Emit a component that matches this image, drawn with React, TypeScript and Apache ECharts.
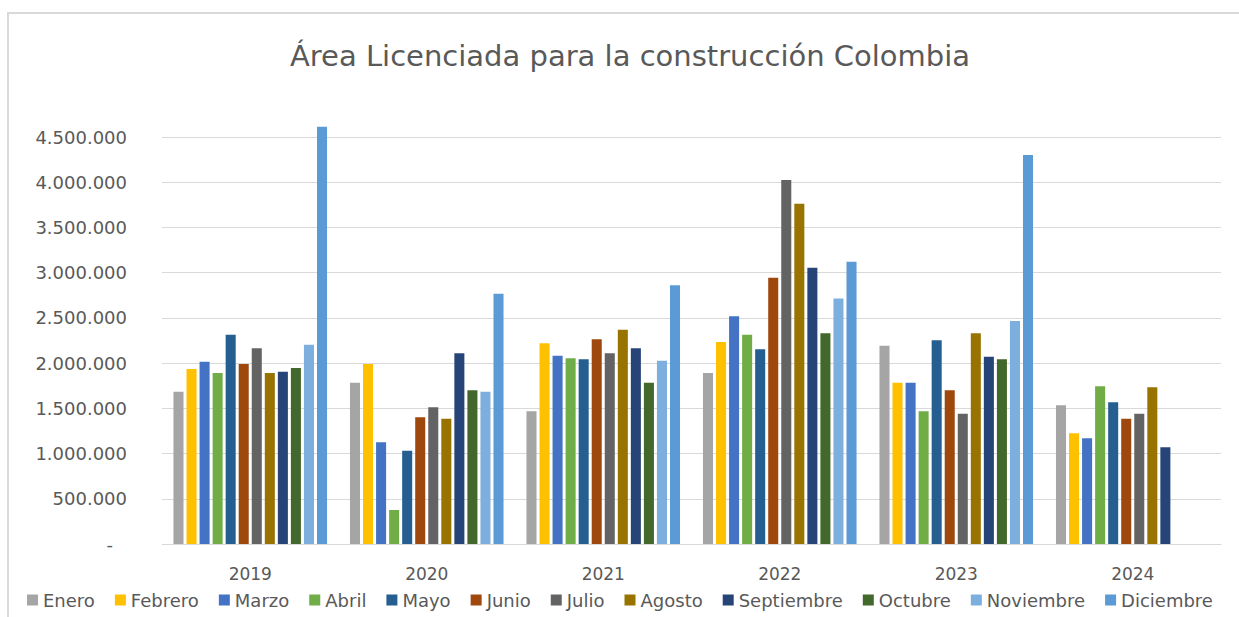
import React, { useEffect, useRef } from "react";
import * as echarts from "echarts";

const years = ["2019", "2020", "2021", "2022", "2023", "2024"];
const months = ["Enero", "Febrero", "Marzo", "Abril", "Mayo", "Junio", "Julio", "Agosto", "Septiembre", "Octubre", "Noviembre", "Diciembre"];
const colors = ["#A5A5A5", "#FFC000", "#4472C4", "#70AD47", "#255E91", "#9E480E", "#636363", "#997300", "#264478", "#43682B", "#7CAFDD", "#5B9BD5"];

const enero = [1684000, 1784000, 1467000, 1891000, 2193000, 1533000];
const febrero = [1935000, 1990000, 2219000, 2234000, 1784000, 1224000];
const marzo = [2016000, 1124000, 2082000, 2517000, 1784000, 1168000];
const abril = [1891000, 376000, 2053000, 2314000, 1467000, 1743000];
const mayo = [2314000, 1032000, 2042000, 2152000, 2252000, 1566000];
const junio = [1990000, 1401000, 2263000, 2945000, 1699000, 1386000];
const julio = [2164000, 1511000, 2108000, 4025000, 1441000, 1441000];
const agosto = [1891000, 1386000, 2370000, 3763000, 2329000, 1732000];
const septiembre = [1905000, 2108000, 2164000, 3055000, 2071000, 1069000];
const octubre = [1946000, 1699000, 1784000, 2329000, 2042000, null];
const noviembre = [2204000, 1684000, 2027000, 2713000, 2466000, null];
const diciembre = [4614000, 2768000, 2860000, 3122000, 4301000, null];

const seriesValues = [enero, febrero, marzo, abril, mayo, junio, julio, agosto, septiembre, octubre, noviembre, diciembre];

const FONT = "'DejaVu Sans', sans-serif";
const TXT = "#595959";

function fmt(v: number): string {
  if (v === 0) return "{d|-}";
  return String(v).replace(/\B(?=(\d{3})+(?!\d))/g, ".");
}

export default function App() {
  const ref = useRef<HTMLDivElement>(null);
  useEffect(() => {
    if (!ref.current) return;
    const chart = echarts.init(ref.current, undefined, { renderer: "svg" });
    chart.setOption({
      animation: false,
      backgroundColor: "#ffffff",
      title: {
        text: "Área Licenciada para la construcción Colombia",
        left: 290,
        top: 41,
        padding: 0,
        textStyle: { fontFamily: FONT, fontSize: 29, fontWeight: "normal", color: TXT },
      },
      graphic: [
        {
          type: "polyline",
          shape: { points: [[8, 617], [8, 13], [1239, 13]] },
          style: { stroke: "#d9d9d9", lineWidth: 2, fill: "none" },
          silent: true,
        },
      ],
      legend: {
        bottom: 8,
        left: 27,
        padding: 0,
        itemWidth: 11,
        itemHeight: 11,
        itemGap: 20,
        icon: "rect",
        textStyle: { fontFamily: FONT, fontSize: 18, color: TXT },
        data: months,
      },
      grid: { left: 162, right: 18, top: 137, bottom: 73 },
      xAxis: {
        type: "category",
        data: years,
        axisLine: { lineStyle: { color: "#d9d9d9", width: 1 } },
        axisTick: { show: false },
        axisLabel: { fontFamily: FONT, fontSize: 17, color: TXT, margin: 21 },
      },
      yAxis: {
        type: "value",
        min: 0,
        max: 4500000,
        interval: 500000,
        axisLine: { show: false },
        axisTick: { show: false },
        splitLine: { lineStyle: { color: "#d9d9d9", width: 1 } },
        axisLabel: {
          fontFamily: FONT,
          fontSize: 18,
          color: TXT,
          margin: 35,
          formatter: fmt,
          rich: { d: { fontFamily: FONT, fontSize: 18, color: TXT, padding: [0, 14, 0, 0] } },
        },
      },
      series: months.map((m, i) => ({
        name: m,
        type: "bar",
        data: seriesValues[i],
        clip: false,
        barGap: "30%",
        barCategoryGap: "13%",
        itemStyle: { color: colors[i] },
      })),
    });
    return () => chart.dispose();
  }, []);
  return (
    <div
      ref={ref}
      style={{ position: "fixed", left: 0, top: 0, width: 1239, height: 617 }}
    />
  );
}
